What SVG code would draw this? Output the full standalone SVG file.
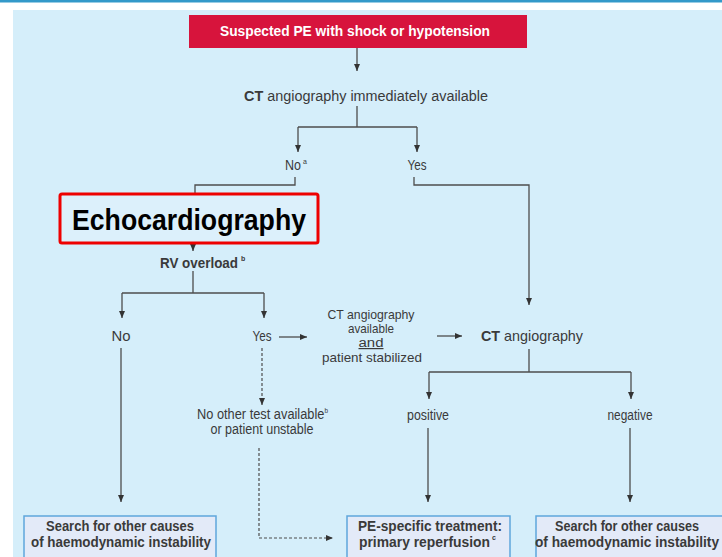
<svg xmlns="http://www.w3.org/2000/svg" width="722" height="557" viewBox="0 0 722 557">
<defs>
<style>
.t{font-family:"Liberation Sans",Arial,sans-serif;font-size:14px;fill:#3a3a3a}
.s{font-size:13px}
.b{font-weight:bold}
.sup{font-family:"Liberation Sans",Arial,sans-serif;font-size:7px;fill:#3a3a3a}
.c{fill:none;stroke:#4d4d4d;stroke-width:1.3}
.d{fill:none;stroke:#4d4d4d;stroke-width:1.2;stroke-dasharray:3 2}
.box{fill:#e3eaf8;stroke:#5fa6dc;stroke-width:1.5}
</style>
<marker id="ah" markerWidth="8" markerHeight="8" refX="7" refY="4" orient="auto" markerUnits="userSpaceOnUse">
<path d="M0,1 L7,4 L0,7 Z" fill="#333"/>
</marker>
</defs>
<rect x="0" y="0" width="722" height="557" fill="#ffffff"/>
<rect x="0" y="0" width="722" height="2.5" fill="#3399c9"/>
<rect x="13" y="10" width="709" height="547" fill="#d5eefa"/>

<g id="connectors">
<path class="c" d="M357,48 V71" marker-end="url(#ah)"/>
<path class="c" d="M357,106 V127 M298,127 H417"/>
<path class="c" d="M298,127 V152" marker-end="url(#ah)"/>
<path class="c" d="M417,127 V152" marker-end="url(#ah)"/>
<path class="c" d="M295,177 V185 H195 V193"/>
<path class="c" d="M414,177 V185 H529 V305" marker-end="url(#ah)"/>
<path class="c" d="M193,244 V251" marker-end="url(#ah)"/>
<path class="c" d="M193,271 V293 M122,293 H264"/>
<path class="c" d="M122,293 V318" marker-end="url(#ah)"/>
<path class="c" d="M264,293 V318" marker-end="url(#ah)"/>
<path class="c" d="M279,337 H307" marker-end="url(#ah)"/>
<path class="c" d="M437,336 H462" marker-end="url(#ah)"/>
<path class="c" d="M529,349 V372 M429,372 H631"/>
<path class="c" d="M429,372 V399" marker-end="url(#ah)"/>
<path class="c" d="M631,372 V399" marker-end="url(#ah)"/>
<path class="d" d="M262,348 V405" marker-end="url(#ah)"/>
<path class="d" d="M259,448 V538 H333" marker-end="url(#ah)"/>
<path class="c" d="M121,348 V502" marker-end="url(#ah)"/>
<path class="c" d="M428,428 V502" marker-end="url(#ah)"/>
<path class="c" d="M630,428 V502" marker-end="url(#ah)"/>
</g>

<g id="start">
<rect x="189" y="15" width="338" height="33" fill="#d7143c"/>
<text class="t b" x="355" y="36" text-anchor="middle" style="fill:#ffffff" textLength="270" lengthAdjust="spacingAndGlyphs">Suspected PE with shock or hypotension</text>
</g>

<g id="ct-available">
<text class="t" x="366" y="101" text-anchor="middle" textLength="244" lengthAdjust="spacingAndGlyphs"><tspan class="b">CT</tspan> angiography immediately available</text>
</g>

<g id="no-a">
<text class="t" x="285" y="170" textLength="16" lengthAdjust="spacingAndGlyphs">No</text>
<text class="sup" x="303" y="164">a</text>
</g>

<g id="yes-1">
<text class="t" x="417" y="170" text-anchor="middle" textLength="19" lengthAdjust="spacingAndGlyphs">Yes</text>
</g>

<g id="echo">
<rect x="60" y="194" width="258" height="49" rx="2" fill="#dcf0fb" stroke="#ee0000" stroke-width="3"/>
<text x="189" y="230" text-anchor="middle" font-family="'Liberation Sans',Arial,sans-serif" font-weight="bold" font-size="29" fill="#000000" textLength="234" lengthAdjust="spacingAndGlyphs">Echocardiography</text>
</g>

<g id="rv-overload">
<text class="t b" x="160" y="268" textLength="78" lengthAdjust="spacingAndGlyphs">RV overload</text>
<text class="sup b" x="241" y="261">b</text>
</g>

<g id="no-2">
<text class="t" x="121" y="341" text-anchor="middle" textLength="19" lengthAdjust="spacingAndGlyphs">No</text>
</g>

<g id="yes-2">
<text class="t" x="262" y="341" text-anchor="middle" textLength="19" lengthAdjust="spacingAndGlyphs">Yes</text>
</g>

<g id="ct-stabilized">
<text class="t s" x="371" y="319" text-anchor="middle" textLength="87" lengthAdjust="spacingAndGlyphs">CT angiography</text>
<text class="t s" x="371" y="333" text-anchor="middle" textLength="46" lengthAdjust="spacingAndGlyphs">available</text>
<text class="t" x="371" y="347" text-anchor="middle" style="font-size:12px" textLength="25" lengthAdjust="spacingAndGlyphs" text-decoration="underline">and</text>
<text class="t s" x="372" y="362" text-anchor="middle" textLength="100" lengthAdjust="spacingAndGlyphs">patient stabilized</text>
</g>

<g id="ct-angio">
<text class="t" x="532" y="341" text-anchor="middle" style="font-size:15px" textLength="102" lengthAdjust="spacingAndGlyphs"><tspan class="b">CT</tspan> angiography</text>
</g>

<g id="no-other">
<text class="t" x="197" y="419" textLength="131" lengthAdjust="spacingAndGlyphs">No other test available<tspan dy="-6" style="font-size:7px">b</tspan></text>
<text class="t" x="262" y="434" text-anchor="middle" textLength="103" lengthAdjust="spacingAndGlyphs">or patient unstable</text>
</g>

<g id="positive">
<text class="t" x="428" y="420" text-anchor="middle" textLength="42" lengthAdjust="spacingAndGlyphs">positive</text>
</g>

<g id="negative">
<text class="t" x="630" y="420" text-anchor="middle" textLength="45" lengthAdjust="spacingAndGlyphs">negative</text>
</g>

<g id="search-left">
<rect class="box" x="24" y="516" width="192" height="45"/>
<text class="t b" x="120" y="531" text-anchor="middle" textLength="148" lengthAdjust="spacingAndGlyphs">Search for other causes</text>
<text class="t b" x="121" y="547" text-anchor="middle" textLength="180" lengthAdjust="spacingAndGlyphs">of haemodynamic instability</text>
</g>

<g id="pe-treatment">
<rect class="box" x="347" y="516" width="163" height="45"/>
<text class="t b" x="430" y="531" text-anchor="middle" textLength="144" lengthAdjust="spacingAndGlyphs">PE-specific treatment:</text>
<text class="t b" x="359" y="547" textLength="131" lengthAdjust="spacingAndGlyphs">primary reperfusion</text>
<text class="sup b" x="492" y="540">c</text>
</g>

<g id="search-right">
<rect class="box" x="536" y="516" width="190" height="45"/>
<text class="t b" x="627" y="531" text-anchor="middle" textLength="144" lengthAdjust="spacingAndGlyphs">Search for other causes</text>
<text class="t b" x="627" y="547" text-anchor="middle" textLength="184" lengthAdjust="spacingAndGlyphs">of haemodynamic instability</text>
</g>
</svg>
